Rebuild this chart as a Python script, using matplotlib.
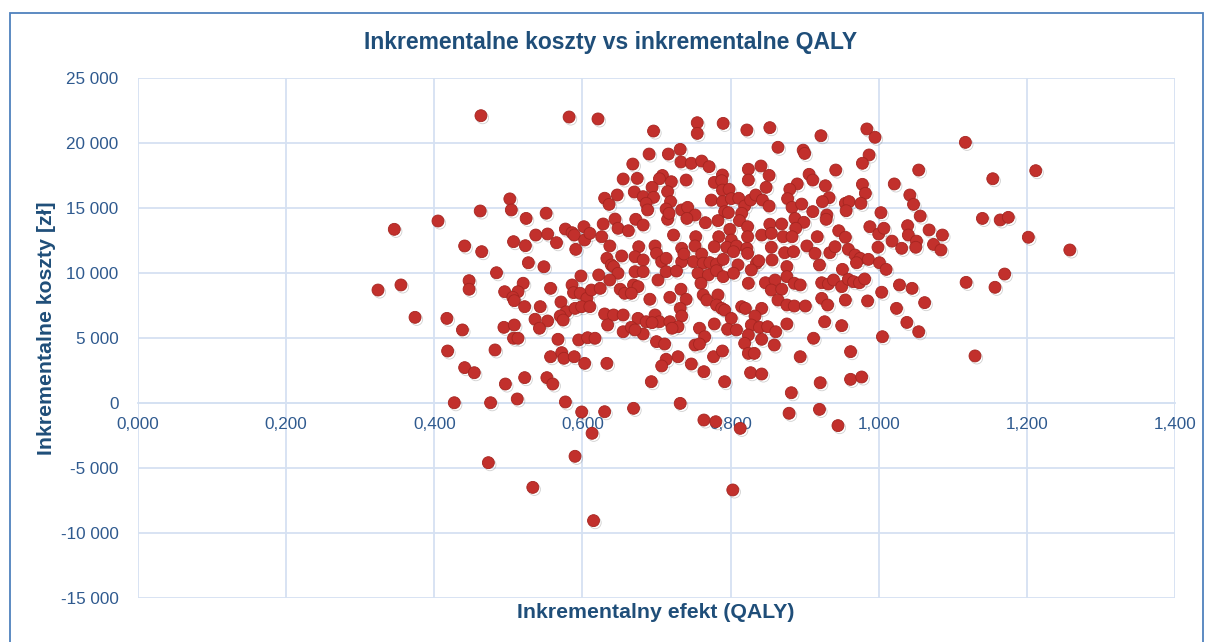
import matplotlib
matplotlib.use("Agg")
import matplotlib.pyplot as plt
import matplotlib.patheffects as pe
from matplotlib.ticker import FuncFormatter
from matplotlib.patches import Rectangle
import numpy as np

plt.rcParams['font.family'] = ['Liberation Sans', 'DejaVu Sans']

# ---- data (incremental QALY, incremental cost in PLN) ----
qaly_a = [0.463,0.582,0.502,0.504,0.462,0.524,0.551,0.405,0.346,0.577,0.586,0.602,0.537,0.553,0.589,0.603]
cost_a = [22100,22000,15700,14850,14770,14200,14600,14000,13360,13380,13100,13560,12920,13000,12920,12540]

qaly_b = [0.621,0.696,0.755,0.755,0.790,0.822,0.853,0.864,0.898,0.900,
          0.690,0.716,0.732,0.668,0.733,0.747,0.761,0.771,0.824,0.841,
          0.789,0.852,0.906,0.655,0.674,0.708,0.704,0.720,0.740,0.778,
          0.788,0.824,0.890,0.911,0.694,0.715,0.789,0.798,0.848,0.880,
          0.630,0.647,0.670,0.682,0.696,0.636,0.686,0.719,0.688,0.713,
          0.734,0.742,0.752,0.774,0.789,0.792,0.797,0.801,0.811,0.819,
          0.815,0.827,0.834,0.843,0.852,0.877,0.883,0.896,0.911,0.644,
          0.628,0.610,0.648,0.662,0.672,0.682,0.715,0.717,0.741,0.766,
          0.783,0.799,0.812,0.823,0.853,0.869,0.887,0.899,0.888,0.626,
          0.723,0.753,0.784,0.823,0.842,0.855,0.871,0.883,0.801]
cost_b = [21850,20920,21560,20740,21510,21000,21180,19670,19450,19200,
          19150,19150,19510,18380,18540,18440,18610,18180,17980,18230,
          17540,17510,17590,17230,17280,17500,17250,17020,17150,16970,
          17100,17150,16850,17150,16590,16260,16380,16440,16590,16440,
          15750,16000,16230,15870,15820,15280,15360,15490,14850,14920,
          14850,15050,14460,15610,15490,14720,14640,15720,15750,15150,
          14590,15610,16000,15610,15150,15720,15050,15300,14720,14150,
          13770,13050,13440,13250,14130,13690,14130,14590,14200,13870,
          14030,13360,14030,13560,13750,13770,14200,13900,13440,12790,
          12920,12790,12790,12790,12920,13050,12790,12790,12540]

qaly_c = [0.922,0.984,0.995,1.117,0.987,0.978,0.942,1.054,1.154,1.212,
          0.928,0.978,1.021,0.982,1.042,0.933,0.924,0.955,0.960,0.976,
          1.047,0.930,0.929,0.956,1.003,1.056,1.140,1.164,1.175,0.946,
          0.988,1.000,1.007,1.039,1.040,1.068,1.086,0.917,1.202,1.258,
          1.074,1.018,1.051,0.955]
cost_c = [20560,21080,20440,20050,19080,18440,17920,17920,17250,17870,
          16710,16820,16850,16130,16000,15790,15490,15360,15490,15360,
          15280,14460,14130,14790,14640,14380,14200,14080,14280,13250,
          13560,13000,13440,13640,12920,13310,12920,12790,12750,11770,
          12200,12450,12450,12750]

qaly_d = [0.441,0.464,0.507,0.523,0.565,0.591,0.527,0.548,0.484,0.598,
          0.324,0.355,0.447,0.447,0.495,0.520,0.513,0.506,0.508,0.557,
          0.586,0.588,0.597,0.606,0.522,0.543,0.571,0.578,0.590,0.599,
          0.570,0.574,0.374,0.417,0.438,0.494,0.508,0.536,0.553,0.542,
          0.507,0.513,0.567,0.595,0.607,0.418,0.482,0.557,0.572,0.575,
          0.589,0.603,0.441,0.454,0.496,0.522,0.552,0.560]
cost_d = [12080,11640,12410,12100,12330,11820,10790,10480,10020,9770,
          8690,9080,9410,8750,8560,9210,8560,8130,7870,8820,
          9080,8490,8440,8050,7410,7410,7770,7020,7280,7410,
          6690,6380,6590,6510,5620,5820,6000,6440,6310,5750,
          4980,4980,4900,4850,5020,4000,4080,3560,3870,3440,
          3560,3050,2720,2330,1460,1950,1950,1460]

qaly_e = [0.427,0.476,0.512,0.577,0.599,0.590,0.473,0.533,
          0.693,0.792,0.882,0.630,0.669,0.732,0.764,0.780,0.813,0.879,0.613,0.803,0.615,
          0.921,0.962,0.977,0.920,0.945]
cost_e = [20,20,310,80,-690,-4100,-4590,-6490,
          1640,1640,790,-670,-410,-30,-1310,-1440,-1950,-790,-2330,-6690,-9050,
          1560,1820,2000,-490,-1740]

qaly_f = [0.637,0.676,0.698,0.734,0.752,0.778,0.795,0.808,0.822,0.855,
          0.873,0.885,0.903,0.914,0.633,0.639,0.653,0.671,0.682,0.700,
          0.707,0.713,0.734,0.737,0.750,0.761,0.763,0.772,0.781,0.790,
          0.804,0.810,0.823,0.835,0.838,0.828,0.856,0.876,0.642,0.648,
          0.637,0.622,0.671,0.682,0.702,0.713,0.727,0.756,0.770,0.760,
          0.781,0.790,0.804,0.824,0.847,0.860,0.876,0.886,0.894,0.855,
          0.869,0.612,0.624,0.651,0.669,0.675,0.657,0.666,0.691,0.718,
          0.733,0.740,0.732,0.734,0.763,0.768,0.783,0.781,0.788,0.792,
          0.801,0.815,0.820,0.842,0.833,0.864,0.876,0.886,0.901,0.610,
          0.630,0.642,0.655,0.634,0.675,0.686,0.698,0.704,0.694,0.655,
          0.666,0.682,0.671,0.718,0.729,0.721,0.758,0.778,0.765,0.796,
          0.808,0.828,0.839,0.850,0.861,0.876,0.824,0.842,0.617,0.700,
          0.711,0.752,0.758,0.819,0.859,0.912,0.729,0.713,0.707,0.777,
          0.789,0.747,0.824,0.832,0.764,0.894,0.633,0.827,0.842]
cost_f = [12080,12020,12080,11900,12080,12020,11980,12080,11900,11980,
          11560,11640,12080,11510,11130,10620,11310,11250,11000,11510,
          10870,11130,10870,11460,10870,11460,10750,10800,10690,11050,
          11640,10620,11510,10750,10940,10230,11000,10490,10490,9980,
          9460,9850,10100,10100,9460,10100,10150,9980,9850,9210,
          10180,9720,9980,9210,9250,9460,9720,9210,9080,8690,
          8750,8690,8820,8750,9080,8950,8440,8440,7980,8130,
          8750,7980,7280,6690,8310,7920,8310,7540,7280,7150,
          6510,7410,7280,7280,6690,7920,7540,7460,7460,7410,
          6850,6770,6770,6000,6510,6250,6770,6250,6180,5480,
          5820,5310,5620,6250,5870,5750,5750,6080,5100,5670,
          5620,6000,5820,5870,5480,6080,5230,4900,4980,4720,
          4540,4460,4540,4590,4460,4980,3560,3360,2850,3560,
          4000,3000,3820,3820,2410,3560,3050,2330,2230]

qaly_g = [0.999,1.031,1.050,1.084,0.934,0.941,0.959,0.968,0.975,0.970,
          0.986,1.001,1.010,0.920,0.951,0.923,0.932,0.939,0.950,0.959,
          0.966,0.974,0.981,1.004,1.028,1.045,1.118,1.157,1.170,0.923,
          0.931,0.955,0.985,1.062,1.024,0.927,0.950,1.038,1.054,1.005,
          0.962,1.130]
cost_g = [11980,11900,11980,11770,11560,12020,11820,11380,11130,10790,
          11050,10790,10280,10620,10280,9250,9150,9460,8950,9510,
          9330,9250,9540,8520,9080,8820,9280,8900,9920,8050,
          7540,7920,7850,7720,7280,6250,5950,6200,5480,5100,
          3950,3620]

x_ticks = [0.0, 0.2, 0.4, 0.6, 0.8, 1.0, 1.2, 1.4]
y_ticks = [-15000, -10000, -5000, 0, 5000, 10000, 15000, 20000, 25000]

title = "Inkrementalne koszty vs inkrementalne QALY"
xlabel = "Inkrementalny efekt (QALY)"
ylabel = "Inkrementalne koszty [zł]"

qaly = np.concatenate([qaly_a, qaly_b, qaly_c, qaly_d, qaly_e, qaly_f, qaly_g])
cost = np.concatenate([cost_a, cost_b, cost_c, cost_d, cost_e, cost_f, cost_g])

# ---- figure ----
W, H = 1205, 642
fig = plt.figure(figsize=(W / 100, H / 100), dpi=100)
fig.patch.set_facecolor("white")

# outer chart border
fig.add_artist(Rectangle((10 / W, -0.01), (W - 12) / W, 1 - 13 / H + 0.01,
                         transform=fig.transFigure, fill=False,
                         edgecolor="#4f81bd", linewidth=1.3))

ax = fig.add_axes([138 / W, 1 - 598 / H, (1175 - 138) / W, (598 - 78) / H])
ax.set_xlim(0, 1.4)
ax.set_ylim(-15000, 25000)

grid_col = "#d5e1f2"
ax.set_xticks(x_ticks)
ax.set_yticks(y_ticks)
ax.grid(True, color=grid_col, linewidth=1.3)
ax.set_axisbelow(True)
for s in ["top", "right", "left"]:
    ax.spines[s].set_visible(False)
ax.spines["bottom"].set_position(("data", 0))
ax.spines["bottom"].set_color(grid_col)
ax.spines["bottom"].set_linewidth(1.3)

tick_col = "#2f5a8f"
ax.xaxis.set_major_formatter(FuncFormatter(lambda v, p: f"{v:.3f}".replace(".", ",")))
ax.yaxis.set_major_formatter(FuncFormatter(lambda v, p: f"{int(round(v)):,}".replace(",", " ")))
ax.tick_params(axis="x", length=0, pad=10, labelsize=12.3, labelcolor=tick_col)
ax.tick_params(axis="y", length=0, pad=14, labelsize=12.3, labelcolor=tick_col)

ax.scatter(qaly, cost, s=74, color="#c2302c", edgecolors="#a52520", linewidths=0.6,
           zorder=3,
           path_effects=[pe.SimpleLineShadow(offset=(1.2, -1.5), shadow_color="#777777", alpha=0.35),
                         pe.Normal()])

label_col = "#1f4e79"
fig.text(0.507, 1 - 42 / H, title, ha="center", va="center", fontsize=16.5,
         fontweight="bold", color=label_col)
fig.text(656 / W, 1 - 612 / H, xlabel, ha="center", va="center", fontsize=15.3,
         fontweight="bold", color=label_col)
fig.text(47 / W, 1 - 328 / H, ylabel, ha="center", va="center", rotation=90,
         fontsize=15.3, fontweight="bold", color=label_col)

fig.savefig("out.png", dpi=100)
